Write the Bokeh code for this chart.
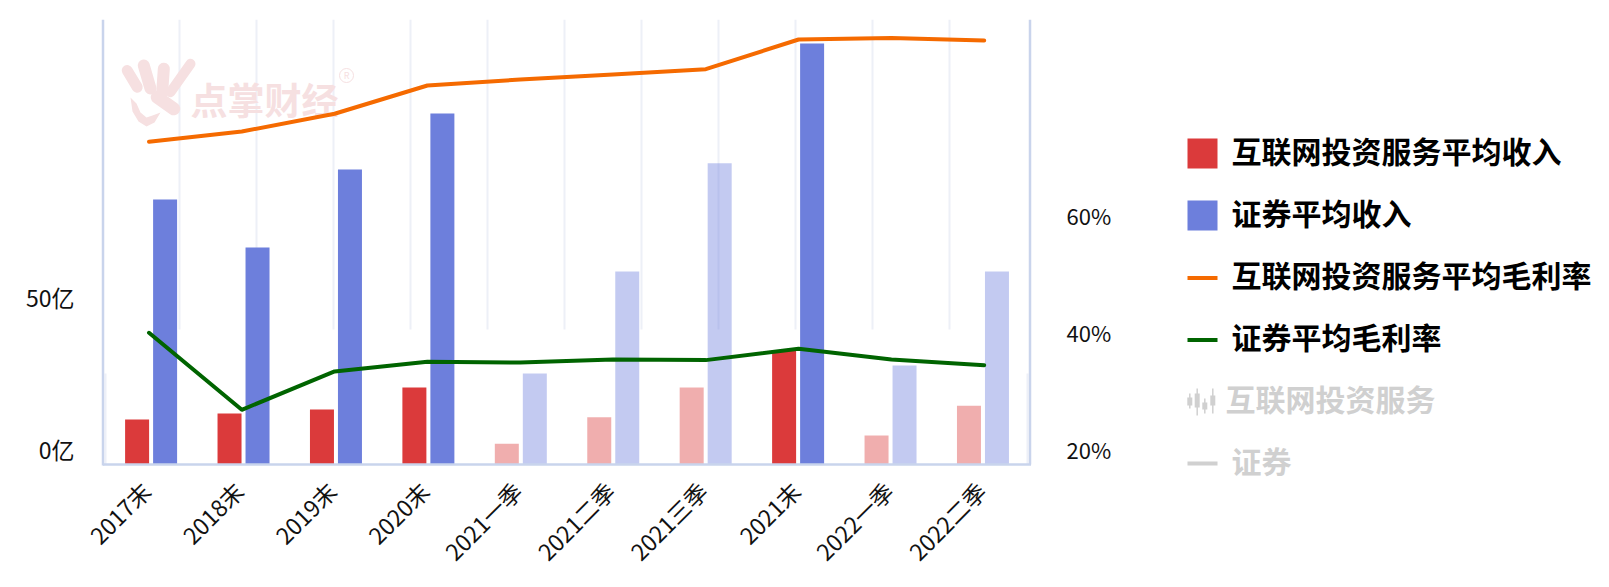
from math import pi
from bokeh.plotting import figure
from bokeh.models import ColumnDataSource, Range1d, LinearAxis, FixedTicker
from bokeh.layouts import row
from bokeh.core.properties import value
from bokeh.embed import file_html
from bokeh.resources import INLINE

periods = ["2017末", "2018末", "2019末", "2020末", "2021一季", "2021二季", "2021三季",
           "2021末", "2022一季", "2022二季"]
internet_revenue = [14.6, 16.6, 17.9, 25.2, 6.7, 15.4, 25.2, 37.3, 9.4, 19.2]
securities_revenue = [87.0, 71.2, 96.9, 115.3, 29.8, 63.3, 98.9, 138.3, 32.4, 63.3]
internet_margin = [73.06, 74.82, 77.85, 82.68, 83.71, 84.56, 85.47, 90.55, 90.8, 90.38]
securities_margin = [40.41, 27.25, 33.8, 35.45, 35.33, 35.85, 35.74, 37.67, 35.85, 34.87]
legend_bars = ["互联网投资服务平均收入", "证券平均收入"]
legend_lines = ["互联网投资服务平均毛利率", "证券平均毛利率"]
legend_muted = ["互联网投资服务", "证券"]

FONT = "Noto Sans CJK SC"
RED, BLUE, ORANGE, GREEN = "#db3a3b", "#6d7fdc", "#f56a00", "#006400"
AXIS = "#c9d4ec"
MUTED = "#d0d0d0"
WM = "#f6e0e1"

# page geometry (this template has no body margin: figure origin is the page origin)
L, R, T, B = 100, 1034, 19, 468       # plot frame
AX_L, AX_R, AX_B = 102.5, 1029.5, 464  # axis lines
BASE = 463.5                          # bars' baseline
CW, H = 1150, 587
LW = 1609 - CW
AMT_PER_PX = 50 / 152
PCT_PER_PX = 20 / 117
LINE_Y0 = 451.7    # 20% for the lines
LABEL_Y0 = 448.7   # 20% / 0亿 for the tick labels (text sits low in this font)
LINE_X0, LINE_STEP = 148.5, 92.8
BAR_X0, BAR_STEP = 150.6, 92.43
TICK_LABEL_SHIFT = 3

p = figure(width=CW, height=H, output_backend="svg", toolbar_location=None,
           x_range=Range1d((L - LINE_X0) / LINE_STEP, (R - LINE_X0) / LINE_STEP),
           y_range=Range1d((BASE - B) * AMT_PER_PX, (BASE - T) * AMT_PER_PX),
           min_border_left=L, min_border_right=CW - R,
           min_border_top=T, min_border_bottom=H - B,
           outline_line_color=None, background_fill_color=None, frame_align=False)
p.grid.visible = False
p.axis.visible = False

# ranges
p.extra_x_ranges["px"] = Range1d(L, R)
p.extra_x_ranges["bars"] = Range1d((L - BAR_X0) / BAR_STEP, (R - BAR_X0) / BAR_STEP)
p.extra_x_ranges["ticks"] = Range1d((L - LINE_X0 + TICK_LABEL_SHIFT) / LINE_STEP, (R - LINE_X0 + TICK_LABEL_SHIFT) / LINE_STEP)
p.extra_y_ranges["px"] = Range1d(B, T)
p.extra_y_ranges["amount_labels"] = Range1d((LABEL_Y0 - B) * AMT_PER_PX, (LABEL_Y0 - T) * AMT_PER_PX)
p.extra_y_ranges["pct_labels"] = Range1d(20 + (LABEL_Y0 - B) * PCT_PER_PX, 20 + (LABEL_Y0 - T) * PCT_PER_PX)
p.extra_y_ranges["pct"] = Range1d(20 + (LINE_Y0 - B) * PCT_PER_PX, 20 + (LINE_Y0 - T) * PCT_PER_PX)

# background grid + watermark
grid_x = [179 + 77 * i for i in range(11)]
p.segment(x0=grid_x, x1=grid_x, y0=[T] * 11, y1=[329] * 11, x_range_name="px", y_range_name="px",
          line_color="#edf0f7", line_width=2)
p.segment(x0=[105, 1027], x1=[105, 1027], y0=[373, 373], y1=[AX_B, AX_B], x_range_name="px", y_range_name="px",
          line_color="#edf0f8", line_width=2)

p.segment(x0=[126.7, 143.3, 163.3, 190, 156.7], y0=[70, 65, 68.3, 63.3, 96.7],
          x1=[136.7, 150, 161.7, 170, 173.3], y1=[86.7, 88, 91.7, 91.7, 108.3],
          line_width=[11, 12, 12, 10, 13], line_cap="round", line_color=WM,
          x_range_name="px", y_range_name="px")
p.patch(x=[130, 132, 138, 146, 154, 160, 152, 146, 140, 136], y=[97, 111, 121, 126, 122, 112, 115, 117, 112, 103],
        fill_color=WM, line_color=None, x_range_name="px", y_range_name="px")
p.text(x=[190], y=[98], text=["点掌财经"], x_range_name="px", y_range_name="px",
       text_font=value(FONT), text_font_size="37px", text_font_style="bold", text_color=WM,
       text_align="left", text_baseline="middle")
p.scatter(x=[346], y=[75], size=14, marker="circle", fill_color=None, line_color=WM, line_width=1,
          x_range_name="px", y_range_name="px")
p.text(x=[346], y=[75], text=["R"], x_range_name="px", y_range_name="px",
       text_font=value(FONT), text_font_size="9px", text_color=WM,
       text_align="center", text_baseline="middle")

# bars
idx = list(range(len(periods)))
alphas = [0.41 if "季" in c else 1.0 for c in periods]
OFFSET = 14 / BAR_STEP
src = ColumnDataSource(dict(i=idx, i_red=[i - OFFSET for i in idx], i_blue=[i + OFFSET for i in idx],
                            internet=internet_revenue, securities=securities_revenue,
                            alpha=alphas, imargin=internet_margin, smargin=securities_margin))
p.vbar(x="i_red", top="internet", bottom=0, width=24 / BAR_STEP, source=src, x_range_name="bars",
       fill_color=RED, fill_alpha="alpha", line_color=None)
p.vbar(x="i_blue", top="securities", bottom=0, width=24 / BAR_STEP, source=src, x_range_name="bars",
       fill_color=BLUE, fill_alpha="alpha", line_color=None)

# lines
p.line(x="i", y="imargin", source=src, y_range_name="pct", line_color=ORANGE, line_width=4,
       line_join="round", line_cap="round")
p.line(x="i", y="smargin", source=src, y_range_name="pct", line_color=GREEN, line_width=4,
       line_join="round", line_cap="round")

# axes
left_line = LinearAxis(y_range_name="amount_labels", ticker=FixedTicker(ticks=[0, 50]),
                       major_label_overrides={0: "0亿", 50: "50亿"})
right_line = LinearAxis(y_range_name="pct_labels", ticker=FixedTicker(ticks=[20, 40, 60]),
                        major_label_overrides={20: "20%", 40: "40%", 60: "60%"})
for ax, standoff, size in ((left_line, 20, "23px"), (right_line, 26, "22px")):
    ax.axis_line_color = None
    ax.major_tick_line_color = None
    ax.minor_tick_line_color = None
    ax.major_label_standoff = standoff
    ax.major_label_text_font = FONT
    ax.major_label_text_font_size = size
    ax.major_label_text_color = "#111111"
p.add_layout(left_line, "left")
p.add_layout(right_line, "right")

xax = LinearAxis(x_range_name="ticks", ticker=FixedTicker(ticks=idx), major_label_overrides=dict(zip(idx, periods)),
                 axis_line_color=None, major_tick_line_color=None, minor_tick_line_color=None,
                 major_label_orientation=pi / 4, major_label_standoff=12,
                 major_label_text_font=FONT, major_label_text_font_size="23px",
                 major_label_text_color="#111111")
p.add_layout(xax, "below")

# axis frame lines
p.segment(x0=[AX_L, AX_L, AX_R], x1=[AX_L, AX_R + 1, AX_R], y0=[T, AX_B, T], y1=[AX_B + 1, AX_B, AX_B],
          x_range_name="px", y_range_name="px", line_color=AXIS, line_width=2.5)

# legend panel
q = figure(width=LW, height=H, output_backend="svg", toolbar_location=None,
           x_range=Range1d(CW, CW + LW), y_range=Range1d(H, 0),
           min_border=0, outline_line_color=None, background_fill_color=None, frame_align=False)
q.axis.visible = False
q.grid.visible = False

ROW_Y = [153, 215, 277.5, 339.5, 401, 463]
TEXT_DY = 4
KEY_X0, KEY_X1, TX = 1187, 1217, 1231
q.rect(x=[(KEY_X0 + KEY_X1) / 2] * 2, y=ROW_Y[:2], width=30, height=30, fill_color=[RED, BLUE], line_color=None)
q.segment(x0=[KEY_X0] * 2, x1=[KEY_X1] * 2, y0=ROW_Y[2:4], y1=ROW_Y[2:4], line_color=[ORANGE, GREEN], line_width=4)
q.segment(x0=[KEY_X0], x1=[KEY_X1], y0=ROW_Y[5:], y1=ROW_Y[5:], line_color=MUTED, line_width=4)

# candlestick key
cx = [1189.3, 1196.7, 1204.3, 1212.3]
q.segment(x0=cx, x1=cx, y0=[393, 388, 398, 388], y1=[408, 415, 413, 413], line_color=MUTED, line_width=1.5)
q.vbar(x=cx, bottom=[397, 393, 402, 395], top=[405, 407, 409, 405], width=5, fill_color=MUTED, line_color=None)

q.text(x=[TX] * 4, y=[v - TEXT_DY for v in ROW_Y[:4]], text=legend_bars + legend_lines, text_font=value(FONT),
       text_font_size="30px", text_font_style="bold", text_color="#000000",
       text_align="left", text_baseline="middle")
q.text(x=[1225, TX], y=[ROW_Y[4] - TEXT_DY, ROW_Y[5] - TEXT_DY], text=legend_muted, text_font=value(FONT),
       text_font_size="30px", text_font_style="bold", text_color=MUTED,
       text_align="left", text_baseline="middle")

page = row(p, q, spacing=0)
open("out.html", "w").write(file_html(page, INLINE))
